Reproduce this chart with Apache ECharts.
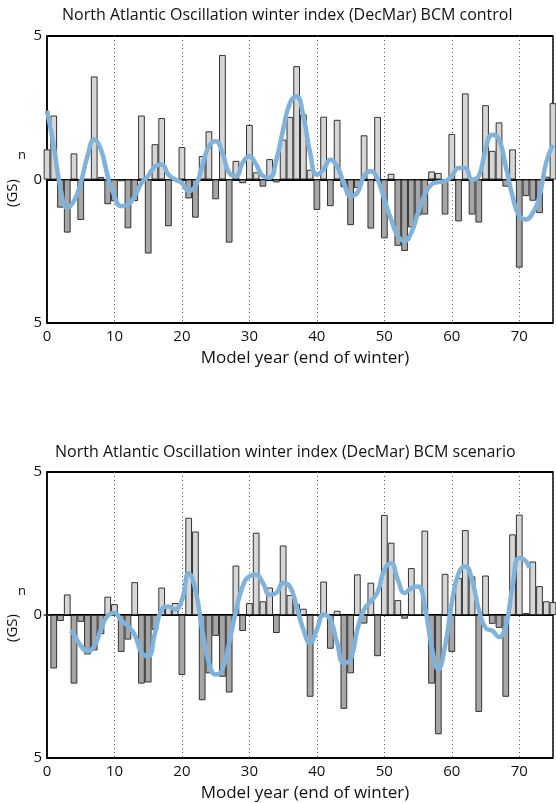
<!DOCTYPE html>
<html>
<head>
<meta charset="utf-8">
<script src="https://cdn.jsdelivr.net/npm/echarts@6/dist/echarts.min.js"></script>
<style>
  html, body { margin: 0; padding: 0; background: #fff; }
  #main { width: 556px; height: 803px; }
</style>
</head>
<body>
<div id="main"></div>
<script>
// model years 0..75 (end of winter)
var years = [0, 1, 2, 3, 4, 5, 6, 7, 8, 9, 10, 11, 12, 13, 14, 15, 16, 17, 18, 19,
  20, 21, 22, 23, 24, 25, 26, 27, 28, 29, 30, 31, 32, 33, 34, 35, 36, 37, 38, 39,
  40, 41, 42, 43, 44, 45, 46, 47, 48, 49, 50, 51, 52, 53, 54, 55, 56, 57, 58, 59,
  60, 61, 62, 63, 64, 65, 66, 67, 68, 69, 70, 71, 72, 73, 74, 75];

var xTicks = [0, 10, 20, 30, 40, 50, 60, 70];

// control run: yearly NAO index
var controlIndex = [1.05, 2.23, -0.98, -1.85, 0.91, -1.41, 0.02, 3.59, 0.09, -0.86,
  -0.76, -0.06, -1.70, -0.75, 2.23, -2.58, 1.23, 2.14, -1.63, -0.05,
  1.13, -0.66, -1.33, 0.82, 1.68, -0.69, 4.34, -2.20, 0.65, -0.13,
  1.90, 0.25, -0.25, 0.71, -0.10, 1.39, 2.18, 3.95, 2.27, 0.34,
  -1.06, 2.19, -0.93, 2.08, -0.27, -1.59, -0.30, 1.54, -1.71, 2.18,
  -2.05, 0.20, -2.31, -2.49, -1.67, -1.25, -1.22, 0.28, 0.23, -1.22,
  1.59, -1.46, 3.00, -1.22, -1.50, 2.59, 1.00, 1.99, -0.25, 1.05,
  -3.07, -0.58, -0.74, -1.17, 0.10, 2.66];

// control run: smoothed curve (one value per year)
var controlSmooth = [2.40, 1.16, -0.30, -0.98, -0.75, -0.12, 0.81, 1.39, 1.04, 0.12,
  -0.58, -0.93, -0.87, -0.58, -0.12, 0.12, 0.46, 0.52, 0.17, 0.00,
  -0.12, -0.40, -0.23, 0.46, 1.16, 1.33, 0.93, 0.23, 0.12, 0.58,
  0.81, 0.52, 0.12, 0.06, 0.69, 1.74, 2.66, 2.89, 2.20, 0.93,
  0.17, 0.35, 0.69, 0.46, -0.12, -0.58, -0.46, 0.12, 0.29, 0.00,
  -0.69, -1.39, -1.97, -2.14, -1.85, -1.16, -0.52, -0.17, -0.09, -0.06,
  0.12, 0.40, 0.40, 0.00, 0.12, 1.04, 1.56, 1.39, 0.46, -0.58,
  -1.27, -1.39, -1.16, -0.58, 0.60, 1.20];

// scenario run: yearly NAO index
var scenarioIndex = [0.00, -1.87, -0.21, 0.72, -2.40, -0.24, -1.38, -1.24, -0.67, 0.64,
  0.38, -1.29, -0.86, 1.15, -2.40, -2.36, -0.52, 0.96, 0.30, 0.42,
  -2.10, 3.40, 2.92, -2.98, -2.04, -0.73, -2.16, -2.71, 1.73, -0.56,
  0.42, 2.88, 0.48, 0.96, -0.63, 2.43, 0.70, 0.38, 0.22, -2.86,
  0.00, 1.17, -1.18, 0.15, -3.28, -2.04, 1.42, -0.30, 1.13, -1.44,
  3.50, 2.53, 0.52, -0.13, 1.64, 0.03, 2.95, -2.40, -4.17, 1.44,
  -1.29, 1.30, 2.97, 1.35, -3.39, 1.38, -0.31, -0.45, -2.86, 2.82,
  3.51, 0.07, 1.87, 1.01, 0.48, 0.45];

// scenario run: smoothed curve
var scenarioSmoothYears = [3.5, 4, 5, 6, 7, 8, 9, 10, 11, 12, 13, 14, 15, 16, 17, 18, 19,
  20, 21, 22, 23, 24, 25, 26, 27, 28, 29, 30, 31, 32, 33, 34, 35, 36, 37, 38, 39,
  40, 41, 42, 43, 44, 45, 46, 47, 48, 49, 50, 51, 52, 53, 54, 55, 56, 57, 58, 59,
  60, 61, 62, 63, 64, 65, 66, 67, 68, 69, 70, 71, 71.5];
var scenarioSmooth = [-0.55, -0.69, -1.07, -1.27, -1.09, -0.51, -0.02, 0.07, -0.19, -0.39,
  -0.69, -1.32, -1.44, -0.63, 0.19, 0.30, 0.19,
  0.53, 1.46, 0.88, -0.51, -1.67, -2.08, -1.90, -0.98, 0.13, 1.00,
  1.35, 1.41, 1.12, 0.71, 0.77, 1.12, 1.00, 0.30, -0.51, -0.98,
  -0.51, 0.01, -0.16, -0.98, -1.67, -1.56, -0.51, 0.19, 0.48, 0.80,
  1.58, 1.81, 1.23, 0.77, 0.94, 1.00, 0.30, -1.09, -1.90, -1.09,
  0.42, 1.46, 1.70, 1.23, 0.19, -0.45, -0.55, -0.77, -0.39, 1.00,
  1.99, 1.88, 1.64];

var titles = [
  'North Atlantic Oscillation winter index (DecMar) BCM control',
  'North Atlantic Oscillation winter index (DecMar) BCM scenario'
];

var FONT = '"Open Sans"';
var LIGHT = '#d6d6d6';
var DARK = '#a6a6a6';
var BLUE = '#80b3db';

function barData(vals) {
  return vals.map(function (v) {
    return { value: v, itemStyle: { color: v >= 0 ? LIGHT : DARK } };
  });
}

function pairs(xs, ys) {
  return xs.map(function (x, i) { return [x, ys[i]]; });
}

var grids = [
  { left: 47, top: 36, width: 510, height: 287 },
  { left: 47, top: 472, width: 510, height: 288 }
];

// visible year axis (ticks, labels, dotted grid lines, smoothed curve)
function yearAxis(idx) {
  return {
    type: 'value', gridIndex: idx, min: 0, max: 75, interval: 10,
    name: 'Model year (end of winter)', nameLocation: 'middle', nameGap: 27,
    nameTextStyle: { fontFamily: FONT, fontSize: 17, color: '#111', padding: [0, 0, 0, 10] },
    axisLine: { show: true, lineStyle: { color: '#000', width: 1.5 } },
    axisTick: { show: false },
    axisLabel: {
      fontFamily: FONT, fontSize: 15, color: '#111', margin: 6,
      formatter: function (v) { return xTicks.indexOf(v) >= 0 ? String(v) : ''; }
    },
    splitLine: { show: true, lineStyle: { type: [1, 3], color: '#555', width: 1 } }
  };
}

// hidden year axis for the bars, one band per year, ends on the grid edges
function barAxis(idx) {
  return {
    type: 'category', gridIndex: idx, data: years, boundaryGap: false,
    show: false
  };
}

function yAxisFor(idx) {
  return {
    type: 'value', gridIndex: idx, min: -5, max: 5, interval: 5,
    axisLine: { show: true, lineStyle: { color: '#000', width: 1.5 } },
    axisTick: { show: false },
    axisLabel: {
      fontFamily: FONT, fontSize: 15, color: '#111', margin: 5,
      formatter: function (v) { return String(Math.abs(v)); }
    },
    splitLine: { show: true, lineStyle: { color: '#000', width: 1.8 } }
  };
}

var chart = echarts.init(document.getElementById('main'));
var option = {
  backgroundColor: '#fff',
  animation: false,
  title: [
    { text: titles[0], left: 62, top: 7, padding: 0,
      textStyle: { fontFamily: FONT, fontSize: 16, fontWeight: 'normal', color: '#111' } },
    { text: titles[1], left: 55, top: 444, padding: 0,
      textStyle: { fontFamily: FONT, fontSize: 16, fontWeight: 'normal', color: '#111' } }
  ],
  grid: grids.map(function (g) {
    return Object.assign({ show: true, borderColor: '#000', borderWidth: 1.5, backgroundColor: 'transparent' }, g);
  }),
  xAxis: [yearAxis(0), yearAxis(1), barAxis(0), barAxis(1)],
  yAxis: [yAxisFor(0), yAxisFor(1)],
  graphic: [
    { type: 'text', x: 13, y: 193, rotation: Math.PI / 2,
      style: { text: '(GS)', fontFamily: FONT, fontSize: 15, fill: '#111', align: 'center', verticalAlign: 'middle' } },
    { type: 'text', x: 22, y: 155,
      style: { text: 'n', fontFamily: FONT, fontSize: 13, fill: '#111', align: 'center', verticalAlign: 'middle' } },
    { type: 'text', x: 13, y: 628, rotation: Math.PI / 2,
      style: { text: '(GS)', fontFamily: FONT, fontSize: 15, fill: '#111', align: 'center', verticalAlign: 'middle' } },
    { type: 'text', x: 22, y: 591,
      style: { text: 'n', fontFamily: FONT, fontSize: 13, fill: '#111', align: 'center', verticalAlign: 'middle' } }
  ],
  series: [
    {
      type: 'bar', xAxisIndex: 2, yAxisIndex: 0, barCategoryGap: '0%',
      itemStyle: { borderColor: '#333', borderWidth: 1 },
      data: barData(controlIndex)
    },
    {
      type: 'line', xAxisIndex: 0, yAxisIndex: 0, smooth: 0.5, symbol: 'none',
      lineStyle: { color: BLUE, width: 4.5 },
      data: pairs(years, controlSmooth)
    },
    {
      type: 'bar', xAxisIndex: 3, yAxisIndex: 1, barCategoryGap: '0%',
      itemStyle: { borderColor: '#333', borderWidth: 1 },
      data: barData(scenarioIndex)
    },
    {
      type: 'line', xAxisIndex: 1, yAxisIndex: 1, smooth: 0.5, symbol: 'none',
      lineStyle: { color: BLUE, width: 4.5 },
      data: pairs(scenarioSmoothYears, scenarioSmooth)
    }
  ]
};
chart.setOption(option);
</script>
</body>
</html>
